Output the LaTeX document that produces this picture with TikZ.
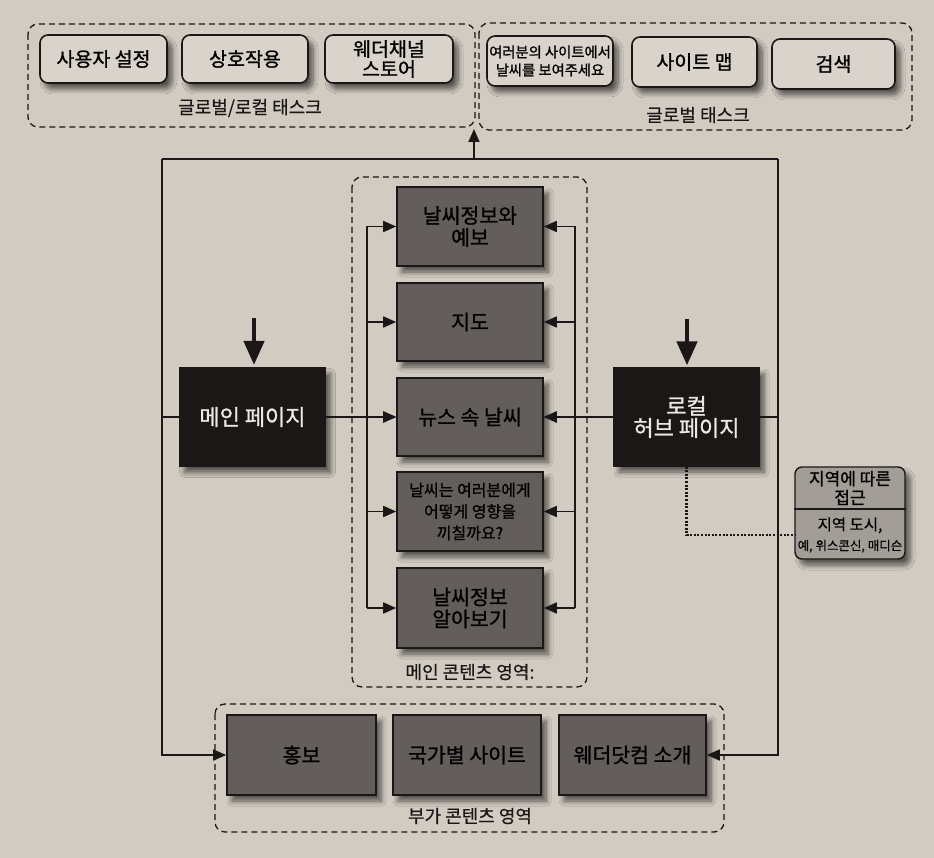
\documentclass[tikz,border=0pt]{standalone}
\usepackage{fontspec}
\setmainfont{Noto Sans CJK KR}[FakeBold=0.6]
\newfontfamily\heavyko{Noto Sans CJK KR}[FakeBold=1.1]
\usetikzlibrary{arrows.meta,calc,shadows.blur}

\definecolor{paper}{HTML}{D2CBC2}
\definecolor{ink}{HTML}{1A1716}
\definecolor{midgray}{HTML}{635E5B}
\definecolor{notegray}{HTML}{A39D97}
\definecolor{softbox}{HTML}{D9D3CB}
\definecolor{hubtext}{HTML}{ECE8E3}

\tikzset{
  softshadow/.style={blur shadow={shadow xshift=5pt, shadow yshift=-6pt,
      shadow blur radius=5pt, shadow blur steps=8, shadow opacity=60}},
  taskbox/.style={draw=ink, line width=1.6pt, rounded corners=8pt, fill=softbox,
      softshadow, inner sep=0pt},
  contentbox/.style={draw=ink, line width=1.6pt, fill=midgray, softshadow,
      inner sep=0pt, minimum width=146pt},
  hubbox/.style={draw=ink, line width=1.2pt, fill=ink, softshadow,
      inner sep=0pt, minimum width=146pt, minimum height=99pt},
  notebox/.style={draw=ink, line width=1.4pt, rounded corners=7pt, fill=notegray,
      softshadow, inner sep=0pt},
  boxtext/.style={align=center, text=black, inner sep=0pt,
      font=\heavyko\fontsize{20.5}{22}\selectfont},
  tasktext/.style={boxtext, font=\heavyko\fontsize{19.5}{20}\selectfont},
  hubtextstyle/.style={align=center, text=hubtext, inner sep=0pt,
      font=\heavyko\fontsize{22}{22}\selectfont},
  grp/.style={draw=ink, line width=1.3pt, dash pattern=on 6pt off 4pt,
      rounded corners=10pt},
  grplabel/.style={text=ink, font=\fontsize{18}{20}\selectfont, inner sep=0pt},
  link/.style={draw=ink, line width=1.7pt},
  arr/.style={link, -{Triangle[length=13pt,width=11pt]}},
  bigarr/.style={draw=ink, line width=4.5pt, -{Triangle[length=24pt,width=20pt]}},
  dotlink/.style={draw=ink, line width=2.4pt, dash pattern=on 2pt off 1.6pt},
}

\begin{document}
\begin{tikzpicture}[x=1pt,y=-1pt]
  % paper
  \fill[paper] (0,0) rectangle (934,858);
  \useasboundingbox (0,0) rectangle (934,858);

  % ---- top task groups ----
  \draw[grp] (28,24) rectangle (475,127);
  \draw[grp] (479,23) rectangle (912,130);

  \node[taskbox, minimum width=127pt, minimum height=48pt] (settings) at (103.5,59) {};
  \node[taskbox, minimum width=126pt, minimum height=48pt] (interact) at (245,59) {};
  \node[taskbox, minimum width=128pt, minimum height=48pt] (store) at (389,59) {};
  \node[tasktext] (settingsT) at (settings) {사용자 설정};
  \node[tasktext] (interactT) at (interact) {상호작용};
  \node[tasktext] (storeT) at (store) {웨더채널\\스토어};
  \node[grplabel] (glabel) at (250,108) {글로벌/로컬 태스크};

  \node[taskbox, minimum width=126pt, minimum height=50pt] (yoursite) at (550,61) {};
  \node[taskbox, minimum width=125pt, minimum height=50pt] (sitemap) at (694.5,62) {};
  \node[taskbox, minimum width=123pt, minimum height=50pt] (search) at (833.5,64) {};
  \node[boxtext, font=\heavyko\fontsize{14.3}{18}\selectfont] (yoursiteT) at (yoursite) {여러분의 사이트에서\\날씨를 보여주세요};
  \node[tasktext] (sitemapT) at (sitemap) {사이트 맵};
  \node[tasktext] (searchT) at (search) {검색};
  \node[grplabel] (gtlabel) at (698,115) {글로벌 태스크};

  % ---- main content area ----
  \draw[grp] (352,177) rectangle (587,687);
  \node[grplabel] (mclabel) at (470,672) {메인 콘텐츠 영역:};

  \node[contentbox, minimum height=79pt] (c1) at (470,226.5) {};
  \node[contentbox, minimum height=78pt] (c2) at (470,322) {};
  \node[contentbox, minimum height=78pt] (c3) at (470,417) {};
  \node[contentbox, minimum height=79pt] (c4) at (470,511.5) {};
  \node[contentbox, minimum height=80pt] (c5) at (470,608) {};
  \node[boxtext] (c1T) at (c1) {날씨정보와\\예보};
  \node[boxtext] (c2T) at (c2) {지도};
  \node[boxtext] (c3T) at (c3) {뉴스 속 날씨};
  \node[boxtext, font=\heavyko\fontsize{16}{21.5}\selectfont] (c4T) at (c4) {날씨는 여러분에게\\어떻게 영향을\\끼칠까요?};
  \node[boxtext] (c5T) at (c5) {날씨정보\\알아보기};

  % ---- hub pages ----
  \node[hubbox] (main) at (252.5,417) {};
  \node[hubbox, minimum width=145pt, minimum height=98pt] (hub) at (686.5,417) {};
  \node[hubtextstyle] (mainT) at (main) {메인 페이지};
  \node[hubtextstyle] (hubT) at (hub) {로컬\\허브 페이지};

  % ---- regional note ----
  \node[notebox, minimum width=110pt, minimum height=92pt] (note) at (850,513) {};
  \draw[ink, line width=1.2pt] (note.west |- 0,509) -- (note.east |- 0,509);
  \node[boxtext, font=\heavyko\fontsize{17}{19}\selectfont] (notetop) at (850,488) {지역에 따른\\접근};
  \node[boxtext, font=\fontsize{15.5}{20}\selectfont] (notebot) at (850,535)
        {지역 도시,\\{\fontsize{12.5}{20}\selectfont 예, 위스콘신, 매디슨}};

  % ---- supplementary content area ----
  \draw[grp] (215,704) rectangle (724,832);
  \node[contentbox, minimum width=149pt, minimum height=80pt] (promo) at (301.5,755) {};
  \node[contentbox, minimum width=148pt, minimum height=80pt] (intl) at (467,755) {};
  \node[contentbox, minimum width=147pt, minimum height=80pt] (about) at (632.5,755) {};
  \node[boxtext] (promoT) at (promo) {홍보};
  \node[boxtext] (intlT) at (intl) {국가별 사이트};
  \node[boxtext] (aboutT) at (about) {웨더닷컴 소개};
  \node[grplabel] (sclabel) at (470,816) {부가 콘텐츠 영역};

  % ---- connectors ----
  \coordinate (tl) at (162,159);
  \coordinate (tr) at (778,159);
  \coordinate (tm) at (474,159);
  \coordinate (up) at (474,129);
  \coordinate (lb) at (367,0);
  \coordinate (rb) at (575,0);
  \coordinate (notein) at (795,535);

  \draw[link] (tl) -- (tr);
  \draw[arr] (tm) -- (up);
  \draw[arr] (tl) |- (promo.west);
  \draw[arr] (tr) |- (about.east);
  \draw[link] (main.west) -- (main.west -| tl);
  \draw[link] (hub.east) -- (hub.east -| tr);

  \draw[arr] (main.east) -- (c3.west);
  \draw[arr] (hub.west) -- (c3.east);

  \draw[link] (c1.west -| lb) -- (c5.west -| lb);
  \draw[link] (c1.east -| rb) -- (c5.east -| rb);
  \foreach \c in {c1,c2,c3,c4,c5}{
    \draw[arr] (\c.west -| lb) -- (\c.west);
    \draw[arr] (\c.east -| rb) -- (\c.east);
  }

  \draw[bigarr] ($(main.north)+(1.5,-49)$) coordinate (mainin) -- ($(main.north)+(1.5,-2)$);
  \draw[bigarr] ($(hub.north)+(0.5,-48)$) coordinate (hubin) -- ($(hub.north)+(0.5,-2)$);

  \draw[dotlink] (hub.south) |- (notein);
\end{tikzpicture}
\end{document}
